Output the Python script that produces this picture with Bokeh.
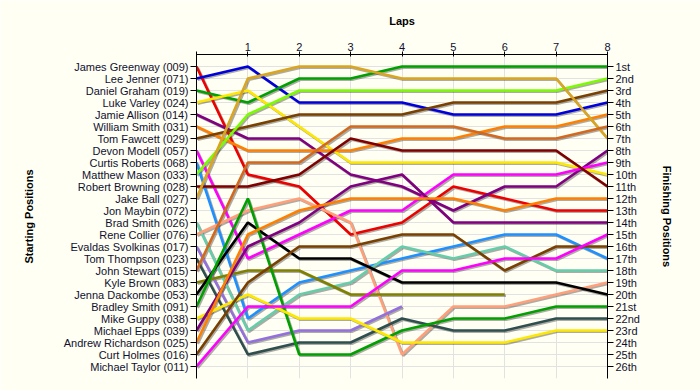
import numpy as np
from bokeh.plotting import figure
from bokeh.models import Range1d, LinearAxis, FixedTicker
from bokeh.embed import file_html
from bokeh.resources import INLINE

laps = [0, 1, 2, 3, 4, 5, 6, 7, 8]
lap_labels = {0: "", 1: "1", 2: "2", 3: "3", 4: "4", 5: "5", 6: "6", 7: "7", 8: "8"}

start_labels = [
    "James Greenway (009)", "Lee Jenner (071)", "Daniel Graham (019)", "Luke Varley (024)",
    "Jamie Allison (014)", "William Smith (031)", "Tom Fawcett (029)", "Devon Modell (057)",
    "Curtis Roberts (068)", "Matthew Mason (033)", "Robert Browning (028)", "Jake Ball (027)",
    "Jon Maybin (072)", "Brad Smith (026)", "Rene Collier (076)", "Evaldas Svolkinas (017)",
    "Tom Thompson (023)", "John Stewart (015)", "Kyle Brown (083)", "Jenna Dackombe (053)",
    "Bradley Smith (091)", "Mike Guppy (038)", "Michael Epps (039)", "Andrew Richardson (025)",
    "Curt Holmes (016)", "Michael Taylor (011)",
]
finish_labels = [
    "1st", "2nd", "3rd", "4th", "5th", "6th", "7th", "8th", "9th", "10th", "11th", "12th", "13th",
    "14th", "15th", "16th", "17th", "18th", "19th", "20th", "21st", "22nd", "23rd", "24th", "25th", "26th",
]

# position per lap (lap 0 = start); None = no data
james_greenway = [1, 10, 11, 15, 14, 11, 12, 13, 13]
lee_jenner = [2, 1, 4, 4, 4, 5, 5, 5, 4]
daniel_graham = [3, 4, 2, 2, 1, 1, 1, 1, 1]
luke_varley = [4, 3, 6, 9, 9, 9, 9, 9, 10]
jamie_allison = [5, 7, 7, 10, 11, 13, 11, 11, 8]
william_smith = [6, 8, 8, 8, 7, 7, 6, 6, 5]
tom_fawcett = [7, 6, 5, 5, 5, 4, 4, 4, 3]
devon_modell = [8, 17, 15, 13, 13, 10, 10, 10, 9]
curtis_roberts = [9, 22, 19, 18, 17, 16, 15, 15, 17]
matthew_mason = [10, 5, 3, 3, 3, 3, 3, 3, 2]
robert_browning = [11, 11, 10, 7, 8, 8, 8, 8, 11]
jake_ball = [12, 2, 1, 1, 2, 2, 2, 2, 7]
jon_maybin = [None, None, None, None, None, None, None, None, None]
brad_smith = [14, 23, 20, 19, 16, 17, 16, 18, 18]
rene_collier = [15, 13, 12, 14, 25, 21, 21, 20, 19]
evaldas_svolkinas = [16, 24, 23, 23, 21, None, None, None, None]
tom_thompson = [17, 25, 24, 24, 22, 23, 23, 22, 22]
john_stewart = [18, 9, 9, 6, 6, 6, 7, 7, 6]
kyle_brown = [19, 18, 18, 20, 20, 20, 20, None, None]
jenna_dackombe = [20, 14, 17, 17, 19, 19, 19, 19, 20]
bradley_smith = [21, 12, 25, 25, 23, 22, 22, 21, 21]
mike_guppy = [22, 20, 22, 22, 24, 24, 24, 23, 23]
michael_epps = [23, 16, 14, 11, 10, 14, 14, 14, 14]
andrew_richardson = [24, 15, 13, 12, 12, 12, 13, 12, 12]
curt_holmes = [25, 19, 16, 16, 15, 15, 18, 16, 16]
michael_taylor = [26, 21, 21, 21, 18, 18, 17, 17, 15]

series = [
    james_greenway, lee_jenner, daniel_graham, luke_varley, jamie_allison, william_smith,
    tom_fawcett, devon_modell, curtis_roberts, matthew_mason, robert_browning, jake_ball,
    jon_maybin, brad_smith, rene_collier, evaldas_svolkinas, tom_thompson, john_stewart,
    kyle_brown, jenna_dackombe, bradley_smith, mike_guppy, michael_epps, andrew_richardson,
    curt_holmes, michael_taylor,
]
colors = [
    "#EE0000", "#0000DD", "#00A000", "#FFE800", "#800080", "#FF8000",
    "#7A4000", "#FF00FF", "#1E90FF", "#7CFC00", "#800000", "#DAA520",
    "#999999", "#66CDAA", "#FFA07A", "#9370DB", "#2F4F4F", "#D2691E",
    "#808000", "#000000", "#00A000", "#FFE800", "#800080", "#FF8000",
    "#7A4000", "#FF00FF",
]

BG = "#FFFFF4"
FONT = "Liberation Sans"

p = figure(width=700, height=390, x_range=Range1d(0, 8), y_range=Range1d(27, 0),
           x_axis_location="above", output_backend="svg", toolbar_location=None,
           min_border_left=196, min_border_right=93, min_border_top=54, min_border_bottom=12)
p.background_fill_color = BG
p.border_fill_color = BG
p.outline_line_color = None

p.xgrid.ticker = FixedTicker(ticks=laps[1:-1])
p.ygrid.ticker = FixedTicker(ticks=list(range(1, 27)))
p.xgrid.grid_line_color = "#E2E2E2"
p.ygrid.grid_line_color = "#E2E2E2"

x = np.array(laps, dtype=float)
dx = 0.025
dy = 0.11
for ser, col in zip(series, colors):
    y = np.array([np.nan if v is None else v for v in ser], dtype=float)
    if np.all(np.isnan(y)):
        continue
    p.line(x + dx, y + dy, line_color="#303030", line_alpha=0.4, line_width=2.6)
for ser, col in zip(series, colors):
    y = np.array([np.nan if v is None else v for v in ser], dtype=float)
    if np.all(np.isnan(y)):
        continue
    p.line(x, y, line_color=col, line_width=2.6)

# top axis
xa = p.xaxis[0]
xa.ticker = FixedTicker(ticks=laps)
xa.major_label_overrides = lap_labels
xa.axis_label = "Laps"

# left axis
ya = p.yaxis[0]
ya.ticker = FixedTicker(ticks=list(range(1, 27)))
ya.major_label_overrides = {i + 1: s for i, s in enumerate(start_labels)}
ya.axis_label = "Starting Positions"

# right axis
ra = LinearAxis()
ra.ticker = FixedTicker(ticks=list(range(1, 27)))
ra.major_label_overrides = {i + 1: s for i, s in enumerate(finish_labels)}
ra.axis_label = "Finishing Positions"
p.add_layout(ra, "right")

for ax in [xa, ya, ra]:
    ax.minor_tick_line_color = None
    ax.major_tick_in = 0
    ax.major_tick_out = 6
    ax.axis_line_color = "black"
    ax.major_tick_line_color = "black"
    ax.major_label_text_font = FONT
    ax.major_label_text_font_size = "11px"
    ax.major_label_text_color = "#101030"
    ax.axis_label_text_font = FONT
    ax.axis_label_text_font_size = "11px"
    ax.axis_label_text_font_style = "bold"
    ax.axis_label_text_color = "black"
    ax.major_label_standoff = 2

xa.major_tick_out = 3
xa.major_tick_in = 2
xa.major_label_standoff = 1
xa.axis_label_standoff = 13
ya.axis_label_standoff = 26
ra.axis_label_standoff = 18

open("out.html", "w").write(file_html(p, INLINE))
